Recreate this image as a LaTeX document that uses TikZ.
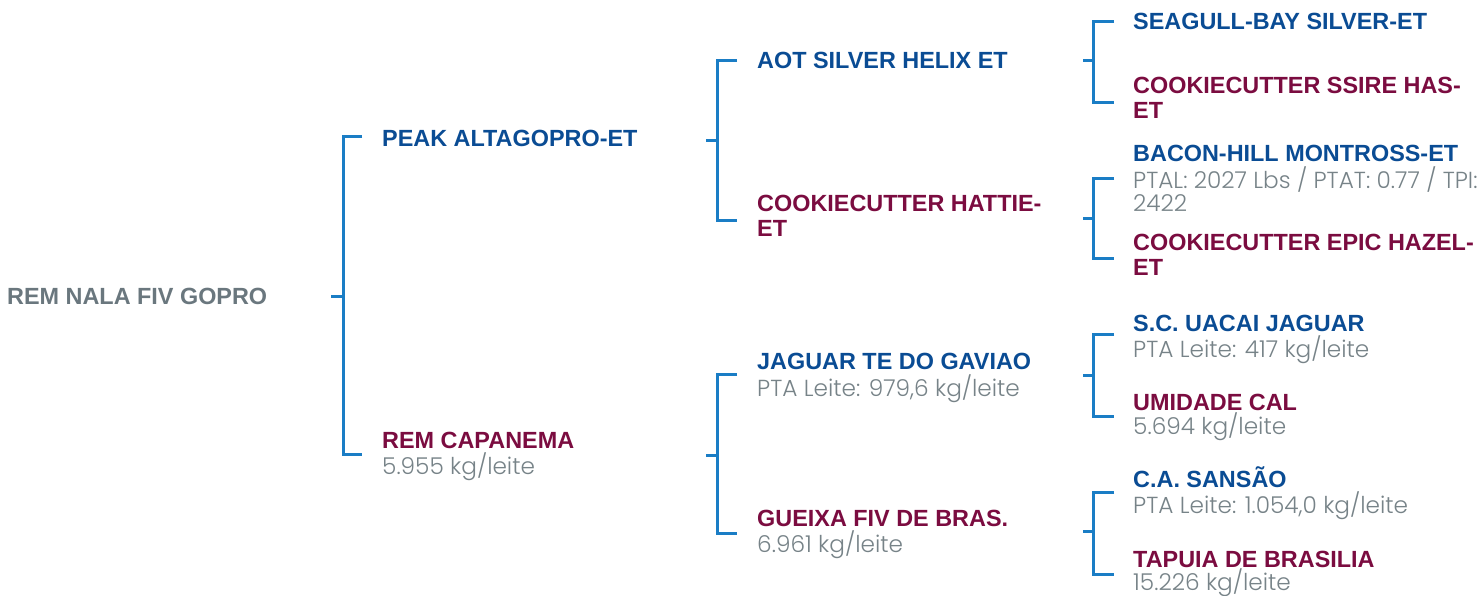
\documentclass[tikz,border=0pt]{standalone}
\usepackage{fontspec}
\setmainfont{Liberation Sans}
\newfontfamily\detailfont{Poppins Light}
\definecolor{nameblue}{HTML}{0A4C94}
\definecolor{namered}{HTML}{7B0C40}
\definecolor{bracketblue}{HTML}{1A7DC5}
\definecolor{rootgray}{HTML}{6A777E}
\definecolor{detailgray}{HTML}{778388}
\newcommand\dtl[1]{{\detailfont\mdseries\fontsize{23.2}{24}\selectfont\color{detailgray}#1}}
\begin{document}
\begin{tikzpicture}[x=1pt,y=-1pt,
  br/.style={draw=bracketblue, line width=3pt, line join=miter},
  entry/.style={anchor=base west, inner sep=0pt, align=left, font=\fontsize{23.4}{25}\selectfont\bfseries},
  sire/.style={entry, text=nameblue},
  dam/.style={entry, text=namered},
  rootname/.style={entry, text=rootgray}]
\useasboundingbox[fill=white] (0,0) rectangle (1483,595);

% nodes (anchor = baseline of the last line)
\node[rootname] (root) at (7,304) {REM NALA FIV GOPRO};
\node[sire] (pk) at (382,146) {PEAK ALTAGOPRO-ET};
\node[dam] (capa) at (382,474) {REM CAPANEMA\\[1pt]\dtl{5.955 kg/leite}};
\node[sire] (aot) at (757,68) {AOT SILVER HELIX ET};
\node[dam] (hat) at (757,236) {COOKIECUTTER HATTIE-\\ET};
\node[sire] (jag) at (757,396) {JAGUAR TE DO GAVIAO\\[2pt]\dtl{PTA Leite: 979,6 kg/leite}};
\node[dam] (gue) at (757,552) {GUEIXA FIV DE BRAS.\\[1pt]\dtl{6.961 kg/leite}};
\node[sire] (sea) at (1133,29) {SEAGULL-BAY SILVER-ET};
\node[dam] (ssire) at (1133,118) {COOKIECUTTER SSIRE HAS-\\ET};
\node[sire] (bacon) at (1133,211) {BACON-HILL MONTROSS-ET\\[2pt]\dtl{PTAL: 2027 Lbs / PTAT: 0.77 / TPI:}\\[-2pt]\dtl{2422}};
\node[dam] (epic) at (1133,275) {COOKIECUTTER EPIC HAZEL-\\ET};
\node[sire] (uacai) at (1133,357) {S.C. UACAI JAGUAR\\[1pt]\dtl{PTA Leite: 417 kg/leite}};
\node[dam] (umid) at (1133,434) {UMIDADE CAL\\[-1pt]\dtl{5.694 kg/leite}};
\node[sire] (sansao) at (1133,513) {C.A. SANSÃO\\[1pt]\dtl{PTA Leite: 1.054,0 kg/leite}};
\node[dam] (tapuia) at (1133,590) {TAPUIA DE BRASILIA\\[-2pt]\dtl{15.226 kg/leite}};

% bracket coordinates
\coordinate (root-out) at (331,296);
\coordinate (pk-in) at (362,136);
\coordinate (capa-in) at (362,454);
\coordinate (pk-out) at (706,140);
\coordinate (aot-in) at (737,60);
\coordinate (hat-in) at (737,220);
\coordinate (capa-out) at (706,455);
\coordinate (jag-in) at (737,374);
\coordinate (gue-in) at (737,533);
\coordinate (aot-out) at (1083,60);
\coordinate (sea-in) at (1114,21);
\coordinate (ssire-in) at (1114,102);
\coordinate (hat-out) at (1083,218);
\coordinate (bacon-in) at (1114,178);
\coordinate (epic-in) at (1114,258);
\coordinate (jag-out) at (1083,375);
\coordinate (uacai-in) at (1114,334);
\coordinate (umid-in) at (1114,416);
\coordinate (gue-out) at (1083,531);
\coordinate (sansao-in) at (1114,492);
\coordinate (tapuia-in) at (1114,574);

% brackets
\draw[br] (root-out) -- ++(12,0) coordinate (root-v);
\draw[br] (pk-in) -| (root-v) |- (capa-in);
\draw[br] (pk-out) -- ++(11,0) coordinate (pk-v);
\draw[br] (aot-in) -| (pk-v) |- (hat-in);
\draw[br] (capa-out) -- ++(11,0) coordinate (capa-v);
\draw[br] (jag-in) -| (capa-v) |- (gue-in);
\draw[br] (aot-out) -- ++(10,0) coordinate (aot-v);
\draw[br] (sea-in) -| (aot-v) |- (ssire-in);
\draw[br] (hat-out) -- ++(10,0) coordinate (hat-v);
\draw[br] (bacon-in) -| (hat-v) |- (epic-in);
\draw[br] (jag-out) -- ++(10,0) coordinate (jag-v);
\draw[br] (uacai-in) -| (jag-v) |- (umid-in);
\draw[br] (gue-out) -- ++(10,0) coordinate (gue-v);
\draw[br] (sansao-in) -| (gue-v) |- (tapuia-in);
\end{tikzpicture}
\end{document}
